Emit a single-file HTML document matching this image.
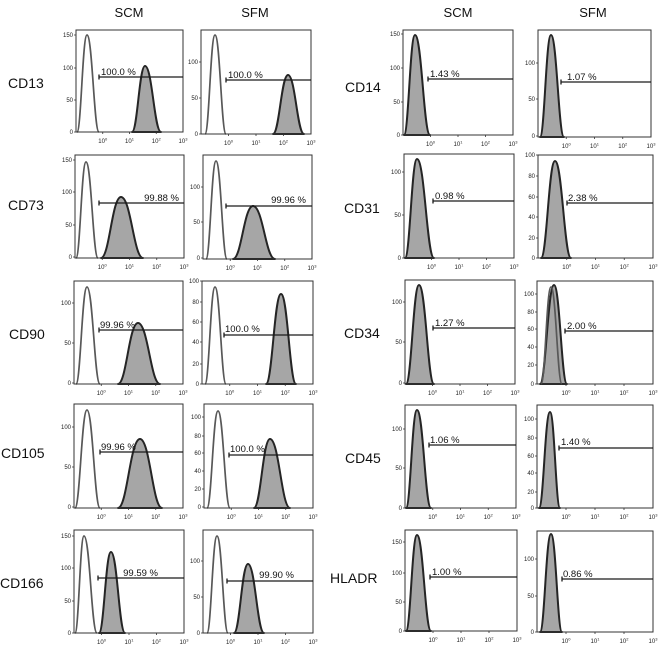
<!DOCTYPE html>
<html><head><meta charset="utf-8">
<style>
html,body{margin:0;padding:0;background:#fff;}
svg{display:block;font-family:"Liberation Sans",sans-serif;}
.hd{font-size:13px;fill:#111;text-anchor:middle;}
.rl{font-size:14px;fill:#111;}
.yt{font-size:6px;fill:#222;text-anchor:end;}
.xt{font-size:6px;fill:#222;text-anchor:middle;}
.pc{font-size:9.5px;fill:#111;}
.pe{font-size:9.5px;fill:#111;text-anchor:end;}
.bx{fill:none;stroke:#333;stroke-width:1;}
.tk{fill:none;stroke:#333;stroke-width:0.8;}
.ct{fill:none;stroke:#585858;stroke-width:1.7;stroke-linejoin:round;}
.sm{fill:#a6a6a6;stroke:#252525;stroke-width:2;stroke-linejoin:round;}
.gt{fill:none;stroke:#1a1a1a;stroke-width:1.3;}
</style></head>
<body>
<svg width="660" height="648" viewBox="0 0 660 648" xmlns="http://www.w3.org/2000/svg">
<!-- headers -->
<text class="hd" x="129" y="17">SCM</text>
<text class="hd" x="255" y="17">SFM</text>
<text class="hd" x="458" y="17">SCM</text>
<text class="hd" x="593" y="17">SFM</text>
<!-- row labels -->
<text class="rl" x="8" y="88">CD13</text>
<text class="rl" x="8" y="210">CD73</text>
<text class="rl" x="9" y="339">CD90</text>
<text class="rl" x="1" y="458">CD105</text>
<text class="rl" x="0" y="588">CD166</text>
<text class="rl" x="345" y="92">CD14</text>
<text class="rl" x="344" y="213">CD31</text>
<text class="rl" x="344" y="338">CD34</text>
<text class="rl" x="345" y="463">CD45</text>
<text class="rl" x="330" y="583">HLADR</text>

<!-- P1 CD13 SCM -->
<path class="ct" d="M77,132 C81.2,132 82.5,35 87,35 C92.4,35 94,132 99,132"/>
<path class="sm" d="M132,132 C137.5,132 139.2,66 145,66 C152.2,66 154.3,132 161,132 Z"/>
<rect class="bx" x="76" y="30" width="107" height="102"/>
<path class="tk" d="M74,132H76M74,100H76M74,68H76M74,35H76M102.75,132V134M129.5,132V134M156.25,132V134"/>
<text class="yt" x="73" y="134">0</text><text class="yt" x="73" y="102">50</text><text class="yt" x="73" y="70">100</text><text class="yt" x="73" y="37">150</text>
<text class="xt" x="102.75" y="143">10<tspan font-size="4" dy="-2.5">0</tspan></text><text class="xt" x="129.5" y="143">10<tspan font-size="4" dy="-2.5">1</tspan></text><text class="xt" x="156.25" y="143">10<tspan font-size="4" dy="-2.5">2</tspan></text><text class="xt" x="183" y="143">10<tspan font-size="4" dy="-2.5">3</tspan></text>
<path class="gt" d="M99,77H183M99,74.5V79.5"/>
<text class="pc" x="101" y="75">100.0 %</text>

<!-- P2 CD13 SFM -->
<path class="ct" d="M205,134 C209.2,134 210.5,35 215,35 C220,35 221.4,134 226,134"/>
<path class="sm" d="M273,134 C279.3,134 281.3,75 288,75 C295.2,75 297.3,134 304,134 Z"/>
<rect class="bx" x="201" y="30" width="110" height="104"/>
<path class="tk" d="M199,134H201M199,98H201M199,62H201M228.5,134V136M256,134V136M283.5,134V136"/>
<text class="yt" x="198" y="136">0</text><text class="yt" x="198" y="100">50</text><text class="yt" x="198" y="64">100</text>
<text class="xt" x="228.5" y="145">10<tspan font-size="4" dy="-2.5">0</tspan></text><text class="xt" x="256" y="145">10<tspan font-size="4" dy="-2.5">1</tspan></text><text class="xt" x="283.5" y="145">10<tspan font-size="4" dy="-2.5">2</tspan></text><text class="xt" x="311" y="145">10<tspan font-size="4" dy="-2.5">3</tspan></text>
<path class="gt" d="M226,80H311M226,77.5V82.5"/>
<text class="pc" x="228" y="78">100.0 %</text>

<!-- P3 CD73 SCM -->
<path class="ct" d="M76,258 C80.2,258 81.5,162 86,162 C91.4,162 93,258 98,258"/>
<path class="sm" d="M101,258 C109.4,258 112,197 121,197 C130.9,197 133.8,258 143,258 Z"/>
<rect class="bx" x="75" y="155" width="109" height="103"/>
<path class="tk" d="M73,257H75M73,225H75M73,192H75M73,160H75M102.25,258V260M129.5,258V260M156.75,258V260"/>
<text class="yt" x="72" y="259">0</text><text class="yt" x="72" y="227">50</text><text class="yt" x="72" y="194">100</text><text class="yt" x="72" y="162">150</text>
<text class="xt" x="102.25" y="269">10<tspan font-size="4" dy="-2.5">0</tspan></text><text class="xt" x="129.5" y="269">10<tspan font-size="4" dy="-2.5">1</tspan></text><text class="xt" x="156.75" y="269">10<tspan font-size="4" dy="-2.5">2</tspan></text><text class="xt" x="184" y="269">10<tspan font-size="4" dy="-2.5">3</tspan></text>
<path class="gt" d="M99,203H184M99,200.5V205.5"/>
<text class="pe" x="179" y="201">99.88 %</text>

<!-- P4 CD73 SFM -->
<path class="ct" d="M206,259 C210.2,259 211.5,161 216,161 C221,161 222.4,259 227,259"/>
<path class="sm" d="M233,259 C241.4,259 244,206 253,206 C262.9,206 265.8,259 275,259 Z"/>
<rect class="bx" x="203" y="155" width="109" height="104"/>
<path class="tk" d="M201,258H203M201,222H203M201,187H203M230.25,259V261M257.5,259V261M284.75,259V261"/>
<text class="yt" x="200" y="260">0</text><text class="yt" x="200" y="224">50</text><text class="yt" x="200" y="189">100</text>
<text class="xt" x="230.25" y="270">10<tspan font-size="4" dy="-2.5">0</tspan></text><text class="xt" x="257.5" y="270">10<tspan font-size="4" dy="-2.5">1</tspan></text><text class="xt" x="284.75" y="270">10<tspan font-size="4" dy="-2.5">2</tspan></text><text class="xt" x="312" y="270">10<tspan font-size="4" dy="-2.5">3</tspan></text>
<path class="gt" d="M226,206H312M226,203.5V208.5"/>
<text class="pe" x="306" y="203">99.96 %</text>

<!-- P5 CD90 SCM -->
<path class="ct" d="M76,384 C80.6,384 82,287 87,287 C92.9,287 94.5,384 100,384"/>
<path class="sm" d="M118,384 C126.4,384 129,323 138,323 C147.9,323 150.8,384 160,384 Z"/>
<rect class="bx" x="74" y="281" width="109" height="103"/>
<path class="tk" d="M72,383H74M72,343H74M72,303H74M101.25,384V386M128.5,384V386M155.75,384V386"/>
<text class="yt" x="71" y="385">0</text><text class="yt" x="71" y="345">50</text><text class="yt" x="71" y="305">100</text>
<text class="xt" x="101.25" y="395">10<tspan font-size="4" dy="-2.5">0</tspan></text><text class="xt" x="128.5" y="395">10<tspan font-size="4" dy="-2.5">1</tspan></text><text class="xt" x="155.75" y="395">10<tspan font-size="4" dy="-2.5">2</tspan></text><text class="xt" x="183" y="395">10<tspan font-size="4" dy="-2.5">3</tspan></text>
<path class="gt" d="M99,330H183M99,327.5V332.5"/>
<text class="pc" x="100" y="328">99.96 %</text>

<!-- P6 CD90 SFM -->
<path class="ct" d="M205,384 C209.2,384 210.5,287 215,287 C220,287 221.4,384 226,384"/>
<path class="sm" d="M266,384 C272.3,384 274.3,294 281,294 C287.8,294 289.7,384 296,384 Z"/>
<rect class="bx" x="202" y="281" width="111" height="103"/>
<path class="tk" d="M200,384H202M200,364H202M200,342H202M200,322H202M200,302H202M200,281H202M229.75,384V386M257.5,384V386M285.25,384V386"/>
<text class="yt" x="199" y="386">0</text><text class="yt" x="199" y="366">20</text><text class="yt" x="199" y="344">40</text><text class="yt" x="199" y="324">60</text><text class="yt" x="199" y="304">80</text><text class="yt" x="199" y="283">100</text>
<text class="xt" x="229.75" y="395">10<tspan font-size="4" dy="-2.5">0</tspan></text><text class="xt" x="257.5" y="395">10<tspan font-size="4" dy="-2.5">1</tspan></text><text class="xt" x="285.25" y="395">10<tspan font-size="4" dy="-2.5">2</tspan></text><text class="xt" x="313" y="395">10<tspan font-size="4" dy="-2.5">3</tspan></text>
<path class="gt" d="M224,335H313M224,332.5V337.5"/>
<text class="pc" x="225" y="332">100.0 %</text>

<!-- P7 CD105 SCM -->
<path class="ct" d="M75,508 C80,508 81.6,410 87,410 C92.9,410 94.5,508 100,508"/>
<path class="sm" d="M118,508 C127.2,508 130.1,439 140,439 C149.9,439 152.8,508 162,508 Z"/>
<rect class="bx" x="74" y="404" width="109" height="104"/>
<path class="tk" d="M72,507H74M72,467H74M72,427H74M101.25,508V510M128.5,508V510M155.75,508V510"/>
<text class="yt" x="71" y="509">0</text><text class="yt" x="71" y="469">50</text><text class="yt" x="71" y="429">100</text>
<text class="xt" x="101.25" y="519">10<tspan font-size="4" dy="-2.5">0</tspan></text><text class="xt" x="128.5" y="519">10<tspan font-size="4" dy="-2.5">1</tspan></text><text class="xt" x="155.75" y="519">10<tspan font-size="4" dy="-2.5">2</tspan></text><text class="xt" x="183" y="519">10<tspan font-size="4" dy="-2.5">3</tspan></text>
<path class="gt" d="M100,452H183M100,449.5V454.5"/>
<text class="pc" x="101" y="450">99.96 %</text>

<!-- P8 CD105 SFM -->
<path class="ct" d="M207,508 C211.6,508 213,411 218,411 C223.4,411 225,508 230,508"/>
<path class="sm" d="M254,508 C260.7,508 262.8,439 270,439 C279,439 281.6,508 290,508 Z"/>
<rect class="bx" x="204" y="404" width="109" height="104"/>
<path class="tk" d="M202,507H204M202,489H204M202,471H204M202,453H204M202,436H204M202,417H204M231.25,508V510M258.5,508V510M285.75,508V510"/>
<text class="yt" x="201" y="509">0</text><text class="yt" x="201" y="491">20</text><text class="yt" x="201" y="473">40</text><text class="yt" x="201" y="455">60</text><text class="yt" x="201" y="438">80</text><text class="yt" x="201" y="419">100</text>
<text class="xt" x="231.25" y="519">10<tspan font-size="4" dy="-2.5">0</tspan></text><text class="xt" x="258.5" y="519">10<tspan font-size="4" dy="-2.5">1</tspan></text><text class="xt" x="285.75" y="519">10<tspan font-size="4" dy="-2.5">2</tspan></text><text class="xt" x="313" y="519">10<tspan font-size="4" dy="-2.5">3</tspan></text>
<path class="gt" d="M229,455H313M229,452.5V457.5"/>
<text class="pc" x="230" y="452">100.0 %</text>

<!-- P9 CD166 SCM -->
<path class="ct" d="M75,633 C78.8,633 80,536 84,536 C89.9,536 91.5,633 97,633"/>
<path class="sm" d="M99,633 C104,633 105.6,552 111,552 C117.3,552 119.1,633 125,633 Z"/>
<rect class="bx" x="74" y="530" width="110" height="103"/>
<path class="tk" d="M72,633H74M72,601H74M72,568H74M72,536H74M101.5,633V635M129,633V635M156.5,633V635"/>
<text class="yt" x="71" y="635">0</text><text class="yt" x="71" y="603">50</text><text class="yt" x="71" y="570">100</text><text class="yt" x="71" y="538">150</text>
<text class="xt" x="101.5" y="644">10<tspan font-size="4" dy="-2.5">0</tspan></text><text class="xt" x="129" y="644">10<tspan font-size="4" dy="-2.5">1</tspan></text><text class="xt" x="156.5" y="644">10<tspan font-size="4" dy="-2.5">2</tspan></text><text class="xt" x="184" y="644">10<tspan font-size="4" dy="-2.5">3</tspan></text>
<path class="gt" d="M98,578H184M98,575.5V580.5"/>
<text class="pe" x="158" y="576">99.59 %</text>

<!-- P10 CD166 SFM -->
<path class="ct" d="M207,633 C211.2,633 212.5,536 217,536 C222,536 223.4,633 228,633"/>
<path class="sm" d="M234,633 C239.9,633 241.7,564 248,564 C255.2,564 257.3,633 264,633 Z"/>
<rect class="bx" x="203" y="530" width="110" height="103"/>
<path class="tk" d="M201,633H203M201,597H203M201,561H203M230.5,633V635M258,633V635M285.5,633V635"/>
<text class="yt" x="200" y="635">0</text><text class="yt" x="200" y="599">50</text><text class="yt" x="200" y="563">100</text>
<text class="xt" x="230.5" y="644">10<tspan font-size="4" dy="-2.5">0</tspan></text><text class="xt" x="258" y="644">10<tspan font-size="4" dy="-2.5">1</tspan></text><text class="xt" x="285.5" y="644">10<tspan font-size="4" dy="-2.5">2</tspan></text><text class="xt" x="313" y="644">10<tspan font-size="4" dy="-2.5">3</tspan></text>
<path class="gt" d="M227,581H313M227,578.5V583.5"/>
<text class="pe" x="294" y="578">99.90 %</text>

<!-- P11 CD14 SCM -->
<path class="sm" d="M404,135 C408.6,135 410,35 415,35 C421.8,35 423.7,135 430,135 Z"/>
<rect class="bx" x="403" y="30" width="110" height="105"/>
<path class="tk" d="M401,135H403M401,102H403M401,68H403M401,34H403M430.5,135V137M458,135V137M485.5,135V137"/>
<text class="yt" x="400" y="137">0</text><text class="yt" x="400" y="104">50</text><text class="yt" x="400" y="70">100</text><text class="yt" x="400" y="36">150</text>
<text class="xt" x="430.5" y="146">10<tspan font-size="4" dy="-2.5">0</tspan></text><text class="xt" x="458" y="146">10<tspan font-size="4" dy="-2.5">1</tspan></text><text class="xt" x="485.5" y="146">10<tspan font-size="4" dy="-2.5">2</tspan></text><text class="xt" x="513" y="146">10<tspan font-size="4" dy="-2.5">3</tspan></text>
<path class="gt" d="M428,79H513M428,76.5V81.5"/>
<text class="pc" x="430" y="77">1.43 %</text>

<!-- P12 CD14 SFM -->
<path class="sm" d="M540,137 C544.6,137 546,35 551,35 C556.9,35 558.5,137 564,137 Z"/>
<rect class="bx" x="538" y="30" width="113" height="107"/>
<path class="tk" d="M536,136H538M536,99H538M536,63H538M566.25,137V139M594.5,137V139M622.75,137V139"/>
<text class="yt" x="535" y="138">0</text><text class="yt" x="535" y="101">50</text><text class="yt" x="535" y="65">100</text>
<text class="xt" x="566.25" y="148">10<tspan font-size="4" dy="-2.5">0</tspan></text><text class="xt" x="594.5" y="148">10<tspan font-size="4" dy="-2.5">1</tspan></text><text class="xt" x="622.75" y="148">10<tspan font-size="4" dy="-2.5">2</tspan></text><text class="xt" x="651" y="148">10<tspan font-size="4" dy="-2.5">3</tspan></text>
<path class="gt" d="M561,82H651M561,79.5V84.5"/>
<text class="pc" x="567" y="80">1.07 %</text>

<!-- P13 CD31 SCM -->
<path class="sm" d="M405,258 C410,258 411.6,159 417,159 C424.7,159 426.9,258 434,258 Z"/>
<rect class="bx" x="404" y="154" width="110" height="104"/>
<path class="tk" d="M402,258H404M402,215H404M402,172H404M431.5,258V260M459,258V260M486.5,258V260"/>
<text class="yt" x="401" y="260">0</text><text class="yt" x="401" y="217">50</text><text class="yt" x="401" y="174">100</text>
<text class="xt" x="431.5" y="269">10<tspan font-size="4" dy="-2.5">0</tspan></text><text class="xt" x="459" y="269">10<tspan font-size="4" dy="-2.5">1</tspan></text><text class="xt" x="486.5" y="269">10<tspan font-size="4" dy="-2.5">2</tspan></text><text class="xt" x="514" y="269">10<tspan font-size="4" dy="-2.5">3</tspan></text>
<path class="gt" d="M433,201H514M433,198.5V203.5"/>
<text class="pc" x="435" y="199">0.98 %</text>

<!-- P14 CD31 SFM -->
<path class="sm" d="M541,258 C546.9,258 548.7,161 555,161 C562.2,161 564.3,258 571,258 Z"/>
<rect class="bx" x="538" y="155" width="115" height="103"/>
<path class="tk" d="M536,258H538M536,238H538M536,217H538M536,197H538M536,176H538M536,155H538M566.75,258V260M595.5,258V260M624.25,258V260"/>
<text class="yt" x="535" y="260">0</text><text class="yt" x="535" y="240">20</text><text class="yt" x="535" y="219">40</text><text class="yt" x="535" y="199">60</text><text class="yt" x="535" y="178">80</text><text class="yt" x="535" y="157">100</text>
<text class="xt" x="566.75" y="269">10<tspan font-size="4" dy="-2.5">0</tspan></text><text class="xt" x="595.5" y="269">10<tspan font-size="4" dy="-2.5">1</tspan></text><text class="xt" x="624.25" y="269">10<tspan font-size="4" dy="-2.5">2</tspan></text><text class="xt" x="653" y="269">10<tspan font-size="4" dy="-2.5">3</tspan></text>
<path class="gt" d="M567,203H653M567,200.5V205.5"/>
<text class="pc" x="568" y="201">2.38 %</text>

<!-- P15 CD34 SCM -->
<path class="sm" d="M406,384 C411.5,384 413.2,285 419,285 C425.8,285 427.7,384 434,384 Z"/>
<rect class="bx" x="405" y="280" width="110" height="104"/>
<path class="tk" d="M403,383H405M403,342H405M403,302H405M432.5,384V386M460,384V386M487.5,384V386"/>
<text class="yt" x="402" y="385">0</text><text class="yt" x="402" y="344">50</text><text class="yt" x="402" y="304">100</text>
<text class="xt" x="432.5" y="395">10<tspan font-size="4" dy="-2.5">0</tspan></text><text class="xt" x="460" y="395">10<tspan font-size="4" dy="-2.5">1</tspan></text><text class="xt" x="487.5" y="395">10<tspan font-size="4" dy="-2.5">2</tspan></text><text class="xt" x="515" y="395">10<tspan font-size="4" dy="-2.5">3</tspan></text>
<path class="gt" d="M433,328H515M433,325.5V330.5"/>
<text class="pc" x="435" y="326">1.27 %</text>

<!-- P16 CD34 SFM -->
<path class="sm" d="M540,384 C545.9,384 547.7,285 554,285 C559.9,285 561.5,384 567,384 Z"/>
<path class="ct" d="M541,384 C545.2,384 546.5,287 551,287 C556,287 557.4,384 562,384"/>
<rect class="bx" x="537" y="281" width="116" height="103"/>
<path class="tk" d="M535,384H537M535,365H537M535,347H537M535,329H537M535,312H537M535,294H537M566,384V386M595,384V386M624,384V386"/>
<text class="yt" x="534" y="386">0</text><text class="yt" x="534" y="367">20</text><text class="yt" x="534" y="349">40</text><text class="yt" x="534" y="331">60</text><text class="yt" x="534" y="314">80</text><text class="yt" x="534" y="296">100</text>
<text class="xt" x="566" y="395">10<tspan font-size="4" dy="-2.5">0</tspan></text><text class="xt" x="595" y="395">10<tspan font-size="4" dy="-2.5">1</tspan></text><text class="xt" x="624" y="395">10<tspan font-size="4" dy="-2.5">2</tspan></text><text class="xt" x="653" y="395">10<tspan font-size="4" dy="-2.5">3</tspan></text>
<path class="gt" d="M565,331H653M565,328.5V333.5"/>
<text class="pc" x="567" y="329">2.00 %</text>

<!-- P17 CD45 SCM -->
<path class="sm" d="M406,508 C410.6,508 412,410 417,410 C423.3,410 425.1,508 431,508 Z"/>
<rect class="bx" x="405" y="405" width="111" height="103"/>
<path class="tk" d="M403,508H405M403,468H405M403,429H405M432.75,508V510M460.5,508V510M488.25,508V510"/>
<text class="yt" x="402" y="510">0</text><text class="yt" x="402" y="470">50</text><text class="yt" x="402" y="431">100</text>
<text class="xt" x="432.75" y="519">10<tspan font-size="4" dy="-2.5">0</tspan></text><text class="xt" x="460.5" y="519">10<tspan font-size="4" dy="-2.5">1</tspan></text><text class="xt" x="488.25" y="519">10<tspan font-size="4" dy="-2.5">2</tspan></text><text class="xt" x="516" y="519">10<tspan font-size="4" dy="-2.5">3</tspan></text>
<path class="gt" d="M429,445H516M429,442.5V447.5"/>
<text class="pc" x="430" y="443">1.06 %</text>

<!-- P18 CD45 SFM -->
<path class="sm" d="M539,508 C543.6,508 545,412 550,412 C554.5,412 555.8,508 560,508 Z"/>
<rect class="bx" x="537" y="405" width="116" height="103"/>
<path class="tk" d="M535,508H537M535,492H537M535,473H537M535,456H537M535,438H537M535,419H537M566,508V510M595,508V510M624,508V510"/>
<text class="yt" x="534" y="510">0</text><text class="yt" x="534" y="494">20</text><text class="yt" x="534" y="475">40</text><text class="yt" x="534" y="458">60</text><text class="yt" x="534" y="440">80</text><text class="yt" x="534" y="421">100</text>
<text class="xt" x="566" y="519">10<tspan font-size="4" dy="-2.5">0</tspan></text><text class="xt" x="595" y="519">10<tspan font-size="4" dy="-2.5">1</tspan></text><text class="xt" x="624" y="519">10<tspan font-size="4" dy="-2.5">2</tspan></text><text class="xt" x="653" y="519">10<tspan font-size="4" dy="-2.5">3</tspan></text>
<path class="gt" d="M559,448H653M559,445.5V450.5"/>
<text class="pc" x="561" y="445">1.40 %</text>

<!-- P19 HLADR SCM -->
<path class="sm" d="M406,631 C410.6,631 412,535 417,535 C423.3,535 425.1,631 431,631 Z"/>
<rect class="bx" x="405" y="530" width="112" height="101"/>
<path class="tk" d="M403,631H405M403,602H405M403,573H405M403,542H405M433,631V633M461,631V633M489,631V633"/>
<text class="yt" x="402" y="633">0</text><text class="yt" x="402" y="604">50</text><text class="yt" x="402" y="575">100</text><text class="yt" x="402" y="544">150</text>
<text class="xt" x="433" y="642">10<tspan font-size="4" dy="-2.5">0</tspan></text><text class="xt" x="461" y="642">10<tspan font-size="4" dy="-2.5">1</tspan></text><text class="xt" x="489" y="642">10<tspan font-size="4" dy="-2.5">2</tspan></text><text class="xt" x="517" y="642">10<tspan font-size="4" dy="-2.5">3</tspan></text>
<path class="gt" d="M430,577H517M430,574.5V579.5"/>
<text class="pc" x="432" y="575">1.00 %</text>

<!-- P20 HLADR SFM -->
<path class="sm" d="M540,632 C544.6,632 546,534 551,534 C556,534 557.4,632 562,632 Z"/>
<rect class="bx" x="537" y="531" width="116" height="101"/>
<path class="tk" d="M535,632H537M535,596H537M535,559H537M566,632V634M595,632V634M624,632V634"/>
<text class="yt" x="534" y="634">0</text><text class="yt" x="534" y="598">50</text><text class="yt" x="534" y="561">100</text>
<text class="xt" x="566" y="643">10<tspan font-size="4" dy="-2.5">0</tspan></text><text class="xt" x="595" y="643">10<tspan font-size="4" dy="-2.5">1</tspan></text><text class="xt" x="624" y="643">10<tspan font-size="4" dy="-2.5">2</tspan></text><text class="xt" x="653" y="643">10<tspan font-size="4" dy="-2.5">3</tspan></text>
<path class="gt" d="M562,579H653M562,576.5V581.5"/>
<text class="pc" x="563" y="577">0.86 %</text>
</svg>
</body></html>
